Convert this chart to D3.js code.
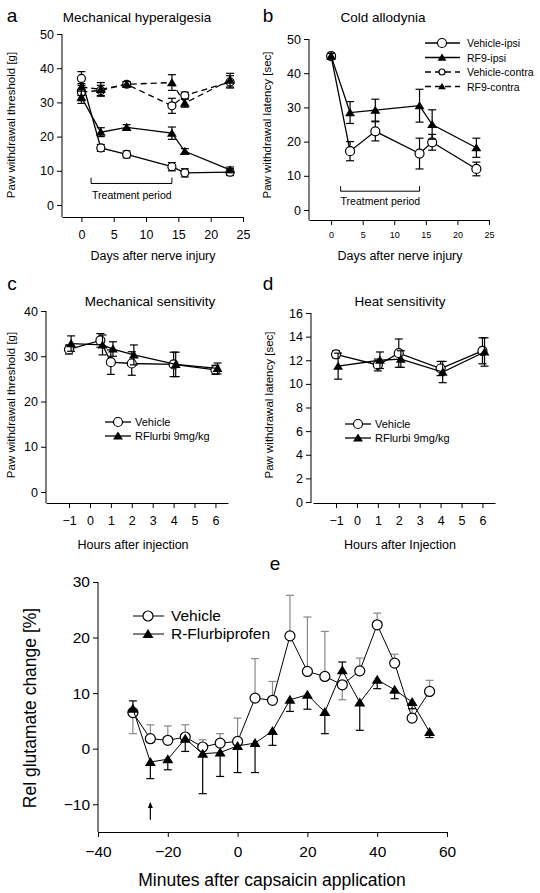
<!DOCTYPE html><html><head><meta charset="utf-8">
<script src="https://cdn.jsdelivr.net/npm/d3@7"></script>
<style>body{margin:0;background:#fff}text{font-family:"Liberation Sans",Arial,sans-serif;fill:#000}</style></head>
<body><svg id="s" width="540" height="893"></svg>
<script>
// Panel a
const aDays=[0,3,7,14,16,23];
const aVehIpsi=[37,16.7,14.8,11.2,9.4,9.6], aVehIpsiErr=[2,1,1,1.2,1.2,1];
const aRfIpsi=[31.5,21.3,22.7,21,15.7,10.3], aRfIpsiErr=[1.8,1.3,0.8,1.8,0.8,0.8];
const aVehContra=[33,33.5,35.3,29,32,36], aVehContraErr=[2.5,1.5,0.8,2.2,1,1.8];
const aRfContra=[34.5,33.8,35.3,35.8,29.8,36.5], aRfContraErr=[2.5,2,0.8,2.3,1.2,2];
// Panel b
const bDays=[0,3,7,14,16,23];
const bVehIpsi=[45,17.2,23,16.5,19.8,12], bVehIpsiErr=[0.8,2.8,2.8,4.5,2.3,2];
const bRfIpsi=[45,28.5,29.2,30.5,25,18.2], bRfIpsiErr=[0.8,3.2,3.2,4.8,4.3,2.8];
// Panel c
const cVehX=[-1,0.5,1,2,4,6], cVeh=[31.5,33.5,28.7,28.4,28.2,27], cVehErr=[1,1.5,2.7,2.6,2.7,1];
const cRfX=[-0.9,0.6,1.1,2.1,4.1,6.1], cRf=[32.8,32.5,31.6,30.3,28.2,27.3], cRfErr=[1.7,2.2,1.6,2.2,2.7,1.2];
// Panel d
const dVehX=[-1,1,2,4,6], dVeh=[12.5,11.6,12.6,11.3,12.8], dVehErr=[0.3,0.5,1.2,0.6,1.1];
const dRfX=[-0.9,1.1,2.1,4.1,6.1], dRf=[11.5,12,12.1,11,12.7], dRfErr=[1.1,0.7,0.7,0.9,1.2];
// Panel e (signed one-sided errors)
const eMin=[-30,-25,-20,-15,-10,-5,0,5,10,15,20,25,30,35,40,45,50,55];
const eVeh=[6.5,1.8,1.5,2.1,0.3,1,1.3,9.1,8.7,20.3,13.9,13,11.5,14,22.3,15.4,5.5,10.3];
const eVehErr=[-3.8,2.5,2.6,2.2,1.3,1.7,4.2,7.1,3.4,7.3,9.8,8.1,-2.7,2.3,2.1,1.6,1.7,2];
const eRf=[7.2,-2.4,-1.9,1.8,-0.9,-0.7,0.5,1,3.2,8.8,9.7,6.6,14.1,8.3,12.4,10.6,8.4,3];
const eRfErr=[1.4,-3,-1.9,-2.3,-7.2,-4.3,-4.8,-5.3,-2.6,-2.1,-2.6,-3.9,1.5,-5,-1.6,-1.6,-1.2,-1];

const svg=d3.select("#s");
function tri(g,x,y,r){g.append("path").attr("d",`M${x},${y-r}L${x+r*1.1},${y+r*0.8}L${x-r*1.1},${y+r*0.8}Z`).attr("fill","#000");}
function circ(g,x,y,r){g.append("circle").attr("cx",x).attr("cy",y).attr("r",r).attr("fill","#fff").attr("stroke","#000").attr("stroke-width",1.2);}
function series(g,x,y,xs,ys,es,opt){
  const col=opt.ecol||"#000";
  xs.forEach((d,i)=>{const e=es[i];const y1=y(ys[i]+e),y2=opt.oneSided?y(ys[i]):y(ys[i]-e);
    g.append("line").attr("x1",x(d)).attr("x2",x(d)).attr("y1",y1).attr("y2",y2).attr("stroke",col).attr("stroke-width",1.2);
    const caps=opt.oneSided?[y1]:[y1,y2];
    caps.forEach(c=>g.append("line").attr("x1",x(d)-opt.cap).attr("x2",x(d)+opt.cap).attr("y1",c).attr("y2",c).attr("stroke",col).attr("stroke-width",1.2));});
  g.append("path").datum(xs.map((d,i)=>[d,ys[i]])).attr("d",d3.line().x(d=>x(d[0])).y(d=>y(d[1]))).attr("fill","none").attr("stroke","#000").attr("stroke-width",opt.lw||1.3).attr("stroke-dasharray",opt.dash||null);
  xs.forEach((d,i)=>opt.tri?tri(g,x(d),y(ys[i]),opt.r):circ(g,x(d),y(ys[i]),opt.r));
}
function axes(x,y,xAxisY,yAxisX,xt,yt,fs,xfs,yTop){
  const g=svg.append("g");
  g.append("g").attr("transform",`translate(0,${xAxisY})`).call(d3.axisBottom(x).tickValues(xt).tickSize(5).tickSizeOuter(0)).call(s=>{s.selectAll("text").attr("font-size",xfs||fs).attr("dy","1.1em");});
  const ya=g.append("g").attr("transform",`translate(${yAxisX},0)`).call(d3.axisLeft(y).tickValues(yt).tickSize(5).tickSizeOuter(0)).call(s=>s.selectAll("text").attr("font-size",fs));
  ya.select(".domain").attr("d",`M0,${yTop}V${xAxisY}`);
  g.selectAll(".domain").attr("stroke","#000");g.selectAll("text").style("font-family","Liberation Sans");
  return g;
}
function txt(x,y,t,fs,anchor,rot){const e=svg.append("text").attr("x",x).attr("y",y).attr("font-size",fs).attr("text-anchor",anchor||"middle").text(t);if(rot)e.attr("transform",`rotate(-90,${x},${y})`);return e;}

// ---- a
{const x=d3.scaleLinear().domain([-3,25]).range([62,243]);const y=d3.scaleLinear().domain([0,50]).range([205,34]);
const g=axes(x,y,217,62,[0,5,10,15,20,25],[0,10,20,30,40,50],12.5,12.5,34);
series(g,x,y,aDays,aVehContra,aVehContraErr,{dash:"6,4",r:4,cap:4});
series(g,x,y,aDays,aRfContra,aRfContraErr,{dash:"6,4",tri:true,r:4.5,cap:4});
series(g,x,y,aDays,aVehIpsi,aVehIpsiErr,{r:4,cap:4});
series(g,x,y,aDays,aRfIpsi,aRfIpsiErr,{tri:true,r:4.5,cap:4});
g.append("path").attr("d",`M${x(1.5)},${y(8)}V${y(6.3)}H${x(14)}V${y(8)}`).attr("fill","none").attr("stroke","#000");
txt(x(7.8),y(6.3)+16,"Treatment period",10.5);
txt(12,22,"a",19);txt(137,22,"Mechanical hyperalgesia",13.5);
txt(15,125,"Paw withdrawal threshold [g]",11.5,"middle",true);txt(153,260,"Days after nerve injury",12.5);}

// ---- b
{const x=d3.scaleLinear().domain([-3.5,25]).range([309,489]);const y=d3.scaleLinear().domain([0,50]).range([210,39]);
const g=axes(x,y,220,309,[0,5,10,15,20,25],[0,10,20,30,40,50],12.5,9,39);
series(g,x,y,bDays,bVehIpsi,bVehIpsiErr,{r:4.5,cap:4});
series(g,x,y,bDays,bRfIpsi,bRfIpsiErr,{tri:true,r:4.5,cap:4});
g.append("path").attr("d",`M${x(1.5)},${y(7)}V${y(5.5)}H${x(14)}V${y(7)}`).attr("fill","none").attr("stroke","#000");
txt(x(7.8),y(5.5)+14,"Treatment period",10.5);
txt(268,22,"b",19);txt(383,22,"Cold allodynia",13.5);
txt(271,125,"Paw withdrawal latency [sec]",11.5,"middle",true);txt(400,260,"Days after nerve injury",12.5);
const L=[["Vehicle-ipsi",0,0],["RF9-ipsi",1,0],["Vehicle-contra",0,1],["RF9-contra",1,1]];
L.forEach((l,i)=>{const yy=43+i*14.5;g.append("line").attr("x1",425).attr("x2",460).attr("y1",yy).attr("y2",yy).attr("stroke","#000").attr("stroke-width",1.3).attr("stroke-dasharray",l[2]?"6,4":null);
 l[1]?tri(g,442,yy,l[2]?3.5:4):circ(g,442,yy,l[2]?3:4.5);txt(467,yy+4,l[0],10.5,"start");});}

// ---- c
{const x=d3.scaleLinear().domain([-2.1,6.6]).range([46,228]);const y=d3.scaleLinear().domain([0,40]).range([492,311]);
const g=axes(x,y,503,46,[-1,0,1,2,3,4,5,6],[0,10,20,30,40],12.5,12.5,311);
series(g,x,y,cVehX,cVeh,cVehErr,{r:4.5,cap:4});
series(g,x,y,cRfX,cRf,cRfErr,{tri:true,r:4.5,cap:4});
[[0,"Vehicle"],[1,"RFlurbi 9mg/kg"]].forEach(([t,l],i)=>{const yy=422+i*14;g.append("line").attr("x1",105).attr("x2",131).attr("y1",yy).attr("y2",yy).attr("stroke","#000").attr("stroke-width",1.3);t?tri(g,118,yy,4.5):circ(g,118,yy,4.5);txt(135,yy+4,l,11,"start");});
txt(12,290,"c",19);txt(150,306,"Mechanical sensitivity",13.5);
txt(15,405,"Paw withdrawal threshold [g]",11.5,"middle",true);txt(133,549,"Hours after injection",12.5);}

// ---- d
{const x=d3.scaleLinear().domain([-2.1,6.6]).range([313,495]);const y=d3.scaleLinear().domain([0,16]).range([502,313]);
const g=axes(x,y,503,311,[-1,0,1,2,3,4,5,6],[0,2,4,6,8,10,12,14,16],12.5,12.5,313);
series(g,x,y,dVehX,dVeh,dVehErr,{r:4.5,cap:4});
series(g,x,y,dRfX,dRf,dRfErr,{tri:true,r:4.5,cap:4});
[[0,"Vehicle"],[1,"RFlurbi 9mg/kg"]].forEach(([t,l],i)=>{const yy=424+i*14;g.append("line").attr("x1",345).attr("x2",371).attr("y1",yy).attr("y2",yy).attr("stroke","#000").attr("stroke-width",1.3);t?tri(g,358,yy,4.5):circ(g,358,yy,4.5);txt(375,yy+4,l,11,"start");});
txt(268,290,"d",19);txt(400,306,"Heat sensitivity",13.5);
txt(273,405,"Paw withdrawal latency [sec]",11.5,"middle",true);txt(400,549,"Hours after Injection",12.5);}

// ---- e
{const x=d3.scaleLinear().domain([-40,60]).range([98,447]);const y=d3.scaleLinear().domain([-15,30]).range([832,582]);
const g=axes(x,y,832,98,[-40,-20,0,20,40,60],[-10,0,10,20,30],15.5,15.5,582);
series(g,x,y,eMin,eVeh,eVehErr,{oneSided:true,r:5,cap:4,ecol:"#888",lw:1});
series(g,x,y,eMin,eRf,eRfErr,{oneSided:true,tri:true,r:5,cap:4,lw:1});
g.append("line").attr("x1",x(-25)).attr("x2",x(-25)).attr("y1",y(-12.8)).attr("y2",y(-9.8)).attr("stroke","#000").attr("stroke-width",1.2);
g.append("path").attr("d",`M${x(-25)-2.5},${y(-9.8)+5}L${x(-25)},${y(-9.8)-1}L${x(-25)+2.5},${y(-9.8)+5}Z`).attr("fill","#000");
[[0,"Vehicle"],[1,"R-Flurbiprofen"]].forEach(([t,l],i)=>{const yy=616+i*18;g.append("line").attr("x1",133).attr("x2",164).attr("y1",yy).attr("y2",yy).attr("stroke","#000");t?tri(g,148,yy,5):circ(g,148,yy,5);txt(171,yy+5,l,15.5,"start");});
txt(275,570,"e",19);txt(36,708,"Rel glutamate change [%]",17.5,"middle",true);txt(272,886,"Minutes after capsaicin application",17.5);}
</script></body></html>
